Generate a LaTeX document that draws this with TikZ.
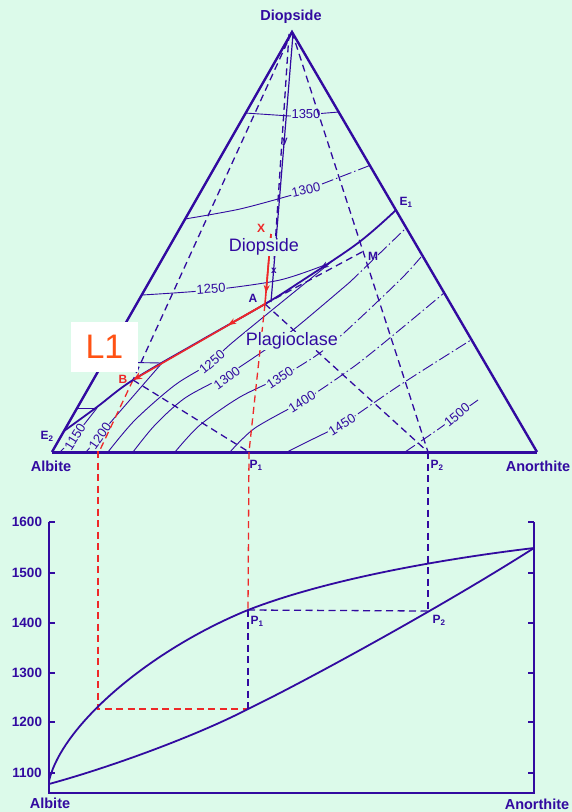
\documentclass[tikz,border=0pt]{standalone}
\usepackage{fontspec}
\setmainfont{Liberation Sans}
\usetikzlibrary{arrows.meta}

\definecolor{mint}{RGB}{220,250,234}
\definecolor{ink}{RGB}{50,10,160}
\definecolor{pathred}{RGB}{238,40,40}
\definecolor{tagorange}{RGB}{255,82,20}

\tikzset{
  sideline/.style={draw=ink, line width=2.4pt, line join=miter},
  cotec/.style={draw=ink, line width=1.8pt},
  isoline/.style={draw=ink, line width=0.9pt},
  isodash/.style={draw=ink, line width=0.9pt, dash pattern=on 12pt off 3pt on 1.5pt off 3pt},
  tieline/.style={draw=ink, line width=1.3pt, dash pattern=on 7pt off 4.5pt},
  redtie/.style={draw=pathred, line width=1.3pt, dash pattern=on 7pt off 4.5pt},
  redpath/.style={draw=pathred, line width=1.6pt},
  isolabel/.style={text=ink, fill=mint, inner sep=1pt, font=\fontsize{13}{13}\selectfont},
  cornerlabel/.style={text=ink, inner sep=0pt, font=\fontsize{14.5}{15}\selectfont\bfseries},
  fieldlabel/.style={text=ink, fill=mint, inner sep=1pt, font=\fontsize{18}{18}\selectfont},
  ptlabel/.style={text=ink, inner sep=0pt, font=\fontsize{12}{12}\selectfont\bfseries},
}

\begin{document}
\begin{tikzpicture}[x=1pt, y=-1pt, >=Stealth]
    \fill[mint] (0,0) rectangle (572,812);
    \useasboundingbox (0,0) rectangle (572,812);

    % Points of the triangle
    \coordinate (Di) at (292,32);
    \coordinate (Ab) at (52,452);
    \coordinate (An) at (537,452);
    \coordinate (E1) at (396,210);
    \coordinate (E2) at (64,431);
    \coordinate (A) at (265,304);
    \coordinate (B) at (133,380);
    \coordinate (X) at (271,234);
    \coordinate (M) at (362,252);
    \coordinate (P1) at (249,452);
    \coordinate (P2) at (428,452);
    \coordinate (Bb) at (99,452);

    % Diopside field isotherms
    \draw[isoline] (245,113) -- (290,116) -- (339,112);
    \draw[isoline] plot[smooth] coordinates {(185,219) (240,209) (292,195)};
    \draw[isodash] (322,184) -- (371,165);
    \draw[isoline] plot[smooth] coordinates {(142,295) (211,290) (280,280) (330,263)};
    \draw[isoline] (103,362) -- (162,363);
    \draw[isoline] (78,408) -- (97,408);

    % Plagioclase field isotherms
    \draw[isoline] plot[smooth] coordinates {(60,452) (74,437) (97,408)};
    \draw[isoline] plot[smooth] coordinates {(86,452) (100,436) (110,423) (162,363)};
    \draw[isoline] plot[smooth] coordinates {(108,452) (135,420) (175,385) (212,362) (233,342) (330,263)};
    \draw[isoline] plot[smooth] coordinates {(133,452) (155,425) (185,398) (227,375) (262,352) (293,330) (350,282)};
    \draw[isodash] (350,282) -- (405,229);
    \draw[isoline] plot[smooth] coordinates {(175,452) (200,425) (240,397) (280,378)};
    \draw[isodash] plot[smooth] coordinates {(280,378) (317,355) (345,332) (400,280) (421,257)};
    \draw[isoline] plot[smooth] coordinates {(230,452) (255,428) (302,402)};
    \draw[isodash] plot[smooth] coordinates {(302,402) (360,362) (444,293)};
    \draw[isoline] plot[smooth] coordinates {(287,452) (315,438) (342,425)};
    \draw[isodash] plot[smooth] coordinates {(342,425) (400,385) (471,340)};
    \draw[isodash] plot[smooth] coordinates {(405,452) (440,428) (457,415) (478,400)};

    % Isotherm labels
    \node[isolabel] (d1350) at (306,114) {1350};
    \node[isolabel, rotate=13] (d1300) at (306,190) {1300};
    \node[isolabel, rotate=4] (d1250) at (211,289) {1250};
    \node[isolabel, rotate=58] (p1150) at (75,437) {1150};
    \node[isolabel, rotate=55] (p1200) at (100,436) {1200};
    \node[isolabel, rotate=40] (p1250) at (212,362) {1250};
    \node[isolabel, rotate=36] (p1300) at (227,378) {1300};
    \node[isolabel, rotate=33] (p1350) at (280,378) {1350};
    \node[isolabel, rotate=32] (p1400) at (302,402) {1400};
    \node[isolabel, rotate=32] (p1450) at (342,425) {1450};
    \node[isolabel, rotate=40] (p1500) at (457,415) {1500};

    % Tie lines
    \draw[tieline] (Di) -- (B);
    \draw[tieline] (Di) -- (P2);
    \draw[tieline] (289,34) -- (274,262);
    \draw[isoline, line width=1.2pt] (293,34) -- (271,302);
    \draw[tieline] (B) -- (P1);
    \draw[tieline] (A) -- (P2);
    \draw[tieline] (A) -- (M);
    \draw[redtie] (B) -- (Bb);
    \draw[redtie] (A) -- (P1);

    % Cotectic
    \draw[cotec] plot[smooth, tension=0.6] coordinates {(E2) (97,407) (B) (200,341) (A) (300,282) (358,243) (E1)};
    \draw[ink, line width=1pt, -{Stealth[length=9pt, width=6pt]}] (334,260) -- (320,269);

    % Sides of the triangle
    \draw[sideline] (Ab) -- (Di) -- (An);
    \draw[draw=ink, line width=3pt] (Ab) -- (An);

    % Liquid path
    \draw[redpath] (X) -- (A);
    \draw[redpath, -{Stealth[length=8pt, width=6pt]}] (X) -- (266,293);
    \draw[redpath, -{Stealth[length=9pt, width=7pt]}] (A) -- (B);
    \draw[redpath, -{Stealth[length=8pt, width=6pt]}] (A) -- (228,325);

    % Labels of the triangle
    \node[fieldlabel] (fDi) at (264,247) {Diopside};
    \node[fieldlabel] (fPl) at (292,341) {Plagioclase};
    \node[cornerlabel] (tDi) at (291,17) {Diopside};
    \node[cornerlabel] (tAb) at (51,466) {Albite};
    \node[cornerlabel] (tAn) at (538,466) {Anorthite};
    \node[ptlabel] (lE1) at (406,202) {E\textsubscript{1}};
    \node[ptlabel] (lE2) at (47,436) {E\textsubscript{2}};
    \node[ptlabel] (lA) at (253,298) {A};
    \node[ptlabel, text=pathred] (lB) at (123,379) {B};
    \node[ptlabel, text=pathred] (lX) at (261,228) {X};
    \node[ptlabel] (lM) at (373,256) {M};
    \node[ptlabel, font=\fontsize{10}{10}\selectfont\bfseries] (ly) at (285,142) {y};
    \node[ptlabel, font=\fontsize{10}{10}\selectfont\bfseries] (lx) at (274,271) {x};
    \node[ptlabel] (lP1) at (256,465) {P\textsubscript{1}};
    \node[ptlabel] (lP2) at (437,465) {P\textsubscript{2}};

    % Lower graph
    \coordinate (gL) at (98,709);
    \coordinate (q1) at (248,610);
    \coordinate (s1) at (248,709);
    \coordinate (q2) at (428,611);
    \draw[redtie] (Bb) -- (98,452) -- (gL) -- (s1);
    \draw[redtie] (P1) -- (q1);
    \draw[tieline] (q1) -- (s1);
    \draw[tieline] (q1) -- (q2);
    \draw[tieline] (P2) -- (q2);

    \draw[draw=ink, line width=2.6pt, line join=miter] (49,522) -- (49,793) -- (534,793) -- (534,522);
    \foreach \t/\y in {1600/522,1500/573,1400/623,1300/673,1200/722,1100/773} {
        \draw[draw=ink, line width=1.6pt] (49,\y) -- (55,\y);
        \draw[draw=ink, line width=1.6pt] (534,\y) -- (528,\y);
        \node[cornerlabel, font=\fontsize{13.5}{14}\selectfont\bfseries] (ax\t) at (27,\y) {\t};
    }

    % Liquidus and solidus
    \draw[draw=ink, line width=1.8pt] (49,781) .. controls (62,725) and (150,650) .. (q1)
        .. controls (330,578) and (450,558) .. (534,548);
    \draw[draw=ink, line width=1.8pt] (49,784) .. controls (115,766) and (200,734) .. (s1)
        .. controls (300,684) and (440,608) .. (534,548);

    \node[ptlabel] (gP1) at (257,621) {P\textsubscript{1}};
    \node[ptlabel] (gP2) at (439,620) {P\textsubscript{2}};
    \node[cornerlabel] (gAb) at (50,803) {Albite};
    \node[cornerlabel] (gAn) at (537,804) {Anorthite};

    % Tag
    \node[fill=white, minimum width=67pt, minimum height=50pt, inner sep=0pt,
          text=tagorange, font=\fontsize{34}{34}\selectfont] (tag) at (104.5,347) {L1};
\end{tikzpicture}
\end{document}
